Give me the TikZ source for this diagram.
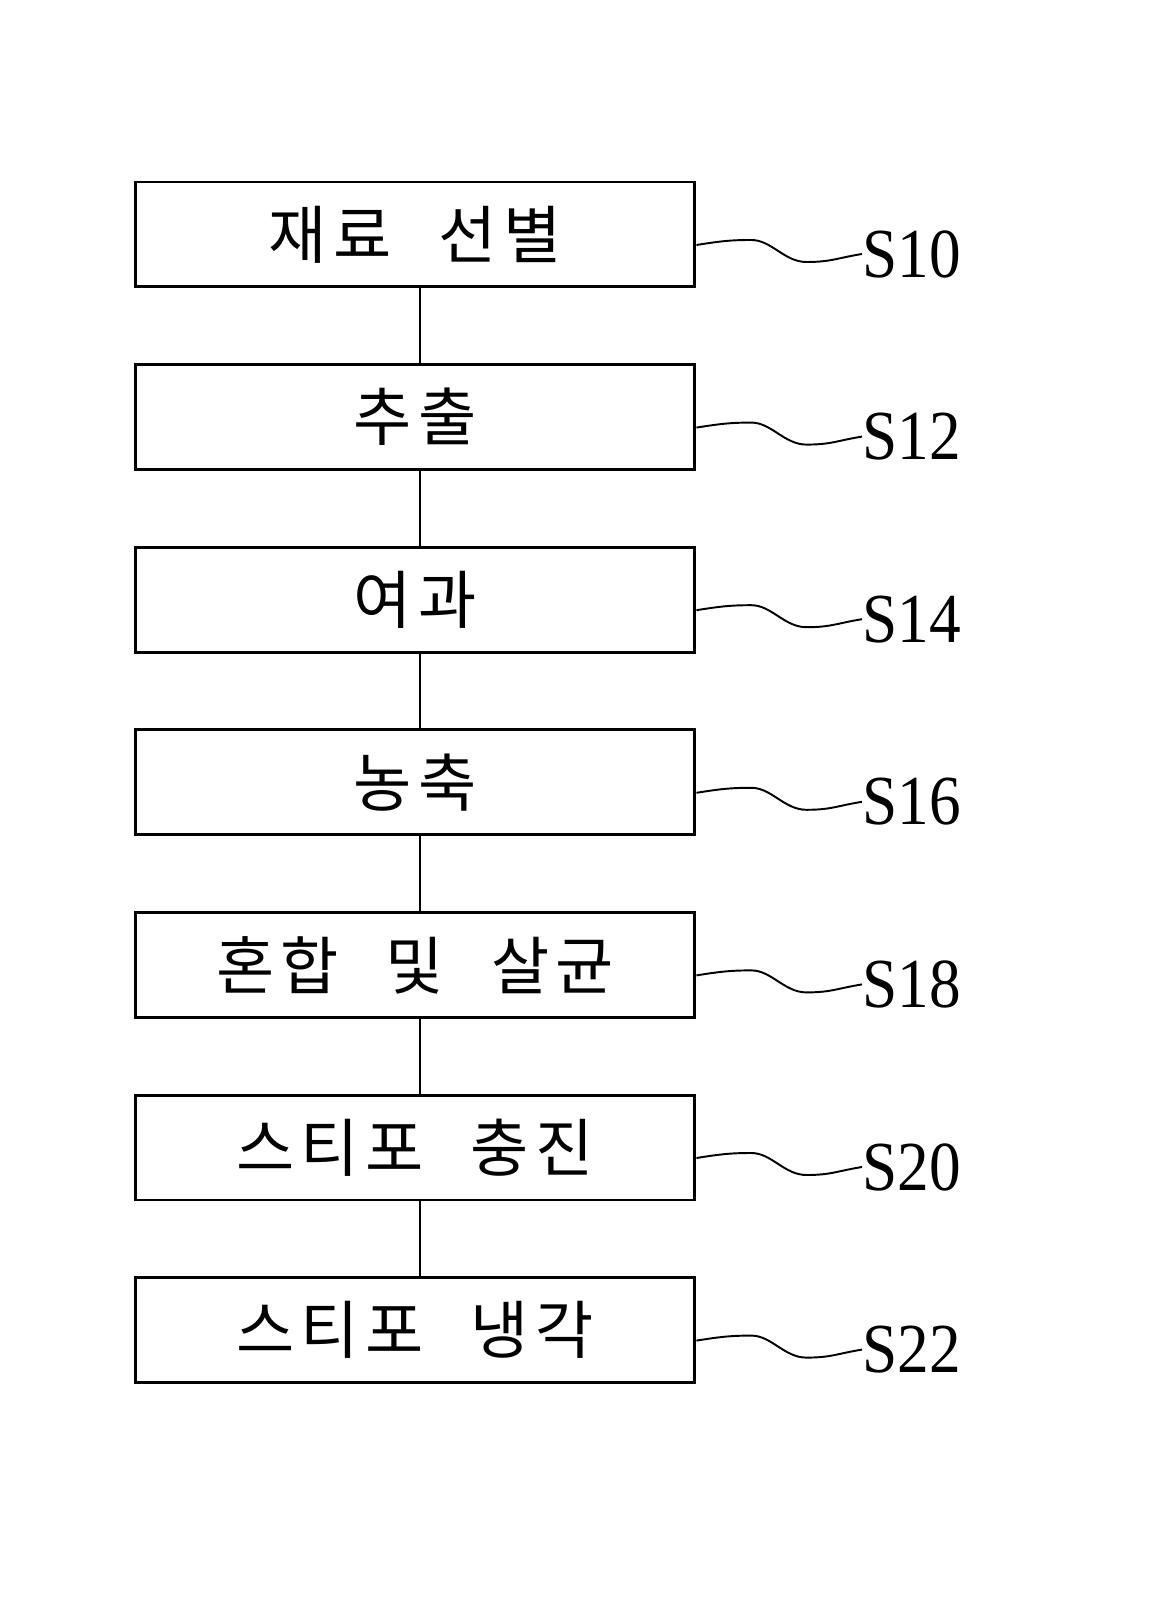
\documentclass[tikz,border=0pt]{standalone}
\usepackage{fontspec}
\newfontfamily\krfont{Noto Sans CJK KR}[WordSpace=2.3,LetterSpace=10]
\newfontfamily\stepfont{Liberation Serif}[FakeStretch=0.9]

\begin{document}
\begin{tikzpicture}[x=0.02cm,y=-0.02cm,
	stepbox/.style={draw,line width=1.7pt,minimum width=11.2cm,minimum height=2.1cm,inner sep=0pt,font=\krfont\fontsize{36pt}{40pt}\selectfont},
	steplabel/.style={anchor=west,inner sep=0pt,font=\stepfont\fontsize{40pt}{44pt}\selectfont},
	link/.style={line width=1.4pt},
	wave/.style={line width=1.1pt}]
		
		% Page frame
		\useasboundingbox (0,0) rectangle (1156,1604);
		
		% Draw step boxes
		\node[stepbox] (b10) at (415,234.5) {재료 선별};
		\node[stepbox] (b12) at (415,417.1) {추출};
		\node[stepbox] (b14) at (415,599.7) {여과};
		\node[stepbox] (b16) at (415,782.3) {농축};
		\node[stepbox] (b18) at (415,964.9) {혼합 및 살균};
		\node[stepbox] (b20) at (415,1147.5) {스티포 충진};
		\node[stepbox] (b22) at (415,1330.1) {스티포 냉각};
		
		% Draw step labels
		\node[steplabel] (s10) at (862,254) {S10};
		\node[steplabel] (s12) at (862,436.6) {S12};
		\node[steplabel] (s14) at (862,619.2) {S14};
		\node[steplabel] (s16) at (862,801.8) {S16};
		\node[steplabel] (s18) at (862,984.4) {S18};
		\node[steplabel] (s20) at (862,1167) {S20};
		\node[steplabel] (s22) at (862,1349.6) {S22};
		
		% Draw connection lines
		\draw[link] ([xshift=0.1cm]b10.south) -- ([xshift=0.1cm]b12.north);
		\draw[link] ([xshift=0.1cm]b12.south) -- ([xshift=0.1cm]b14.north);
		\draw[link] ([xshift=0.1cm]b14.south) -- ([xshift=0.1cm]b16.north);
		\draw[link] ([xshift=0.1cm]b16.south) -- ([xshift=0.1cm]b18.north);
		\draw[link] ([xshift=0.1cm]b18.south) -- ([xshift=0.1cm]b20.north);
		\draw[link] ([xshift=0.1cm]b20.south) -- ([xshift=0.1cm]b22.north);
		
		% Draw leader lines
		\draw[wave] ([yshift=-0.21cm]b10.east) .. controls +(25,-4) and +(-20,0) .. ++(55,-5) .. controls +(20,0) and +(-22,0) .. ++(55,22) .. controls +(25,0) and +(-25,4) .. (s10.west);
		\draw[wave] ([yshift=-0.21cm]b12.east) .. controls +(25,-4) and +(-20,0) .. ++(55,-5) .. controls +(20,0) and +(-22,0) .. ++(55,22) .. controls +(25,0) and +(-25,4) .. (s12.west);
		\draw[wave] ([yshift=-0.21cm]b14.east) .. controls +(25,-4) and +(-20,0) .. ++(55,-5) .. controls +(20,0) and +(-22,0) .. ++(55,22) .. controls +(25,0) and +(-25,4) .. (s14.west);
		\draw[wave] ([yshift=-0.21cm]b16.east) .. controls +(25,-4) and +(-20,0) .. ++(55,-5) .. controls +(20,0) and +(-22,0) .. ++(55,22) .. controls +(25,0) and +(-25,4) .. (s16.west);
		\draw[wave] ([yshift=-0.21cm]b18.east) .. controls +(25,-4) and +(-20,0) .. ++(55,-5) .. controls +(20,0) and +(-22,0) .. ++(55,22) .. controls +(25,0) and +(-25,4) .. (s18.west);
		\draw[wave] ([yshift=-0.21cm]b20.east) .. controls +(25,-4) and +(-20,0) .. ++(55,-5) .. controls +(20,0) and +(-22,0) .. ++(55,22) .. controls +(25,0) and +(-25,4) .. (s20.west);
		\draw[wave] ([yshift=-0.21cm]b22.east) .. controls +(25,-4) and +(-20,0) .. ++(55,-5) .. controls +(20,0) and +(-22,0) .. ++(55,22) .. controls +(25,0) and +(-25,4) .. (s22.west);
		
\end{tikzpicture}
\end{document}
